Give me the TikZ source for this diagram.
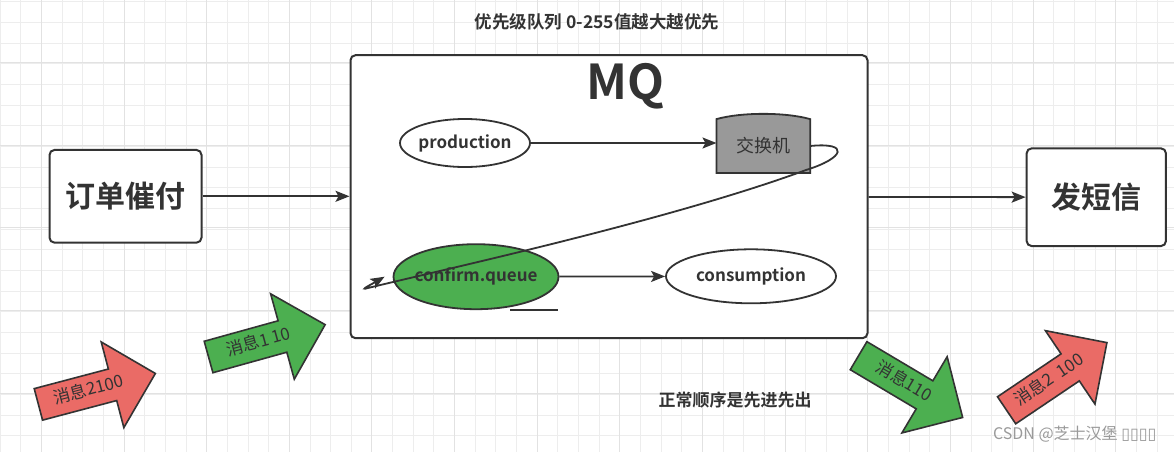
\documentclass[tikz,border=0pt]{standalone}
\usepackage{fontspec}
\setmainfont{Noto Sans CJK SC}[BoldFont={Noto Sans CJK SC Bold}]
\newfontfamily\boxfont{DejaVu Sans}
\usetikzlibrary{shapes.geometric,shapes.arrows,arrows.meta}
\definecolor{linec}{HTML}{333333}
\definecolor{qgreen}{HTML}{4CAF50}
\definecolor{mred}{HTML}{EA6B66}
\definecolor{exgray}{HTML}{999999}
\definecolor{gridminor}{HTML}{EDEDED}
\definecolor{gridmajor}{HTML}{E2E2E2}
\definecolor{markgray}{HTML}{9A9A9A}

\begin{document}
\begin{tikzpicture}[x=1pt, y=-1pt,
  box/.style={draw=linec, line width=2pt, rectangle, rounded corners=5pt, fill=white, text=linec, font=\bfseries\fontsize{30}{30}\selectfont},
  oval/.style={draw=linec, line width=1.8pt, ellipse, fill=white, inner xsep=-15pt, inner ysep=0pt, text=linec, font=\bfseries\fontsize{17}{17}\selectfont},
  conn/.style={draw=linec, line width=1.8pt, -{Stealth[length=14pt,width=11pt,inset=3pt]}},
  msgarrow/.style={single arrow, draw=linec, line width=1.6pt, minimum height=121pt, single arrow head extend=28pt, text height=12pt, text depth=3pt, inner xsep=2pt, inner ysep=8pt, text=linec, font=\fontsize{17}{17}\selectfont},
  note/.style={text=linec, font=\bfseries\fontsize{17}{17}\selectfont}]
  \useasboundingbox (0,0) rectangle (1174,452);
  % grid
  \fill[white] (0,0) rectangle (1174,452);
  \foreach \i in {0,...,57} \draw[gridminor, line width=0.8pt] ({\i*20.66},0) -- ({\i*20.66},452);
  \foreach \j in {0,...,21} \draw[gridminor, line width=0.8pt] (0,{1.7+\j*20.66}) -- (1174,{1.7+\j*20.66});
  \foreach \i in {0,...,13} \draw[gridmajor, line width=0.8pt] ({41.3+\i*82.64},0) -- ({41.3+\i*82.64},452);
  \foreach \j in {0,...,4} \draw[gridmajor, line width=0.8pt] (0,{62.5+\j*82.64}) -- (1174,{62.5+\j*82.64});
  % Nodes
  \node[note, font=\bfseries\fontsize{17.5}{17.5}\selectfont] (title) at (597,22) {优先级队列 0-255值越大越优先};
  \node[box, minimum width=152pt, minimum height=92.7pt] (order) at (125.5,196.3) {订单催付};
  \node[box, minimum width=517pt, minimum height=283pt] (mq) at (609,196.7) {};
  \node[text=linec, font=\bfseries\fontsize{48}{48}\selectfont] (mqtitle) at (625,86) {MQ};
  \node[box, minimum width=139.3pt, minimum height=97.7pt] (sms) at (1096.3,197.2) {发短信};
  \node[oval, minimum width=130pt, minimum height=48pt] (prod) at (465,143) {production};
  \node[minimum width=93.3pt, minimum height=53.4pt] (ex) at (763.3,146) {};
  \draw[draw=linec, fill=exgray, line width=1.8pt] (ex.south west) -- (ex.north west) .. controls +(25,-7) and +(-25,-7) .. (ex.north east) -- (ex.south east) -- cycle;
  \node[text=linec, font=\fontsize{18}{18}\selectfont] (exlabel) at (ex) {交换机};
  \node[oval, fill=qgreen, minimum width=165pt, minimum height=65pt] (cq) at (476,276.7) {confirm.queue};
  \node[oval, minimum width=170pt, minimum height=54pt] (cons) at (751,276.3) {consumption};
  \node[note] (fifo) at (735,400) {正常顺序是先进先出};
  % Connections
  \draw[conn] (order.east) -- (order.east -| mq.west);
  \draw[conn] (mq) -- (sms);
  \draw[conn] (prod.east) -- (prod.east -| ex.west);
  \draw[conn] (cq) -- (cons);
  \draw[conn] (ex.east) .. controls (850,142) and (845,158) .. (806,170) .. controls (670,220) and (450,268) .. (368,288) .. controls (358,291) and (372,284) .. ([xshift=-8pt]cq.west);
  \draw[draw=linec, line width=1.8pt] ([xshift=34pt]cq.south) -- ([xshift=82pt]cq.south);
  % message arrows
  \node[msgarrow, fill=mred, rotate=14.8] (msg2a) at (89,391) {消息2100};
  \node[msgarrow, fill=qgreen, rotate=15.5] (msg1a) at (259,343) {消息1 10};
  \node[msgarrow, fill=qgreen, rotate=-30.7] (msg1b) at (903.6,382.4) {消息110};
  \node[msgarrow, fill=mred, rotate=34] (msg2b) at (1050,381) {消息2\ \ 100};
  \node[anchor=east, text=markgray, font=\fontsize{16}{16}\selectfont] (mark) at (1160,434) {CSDN @芝士汉堡 {\boxfont ▯▯▯▯}};
\end{tikzpicture}
\end{document}
